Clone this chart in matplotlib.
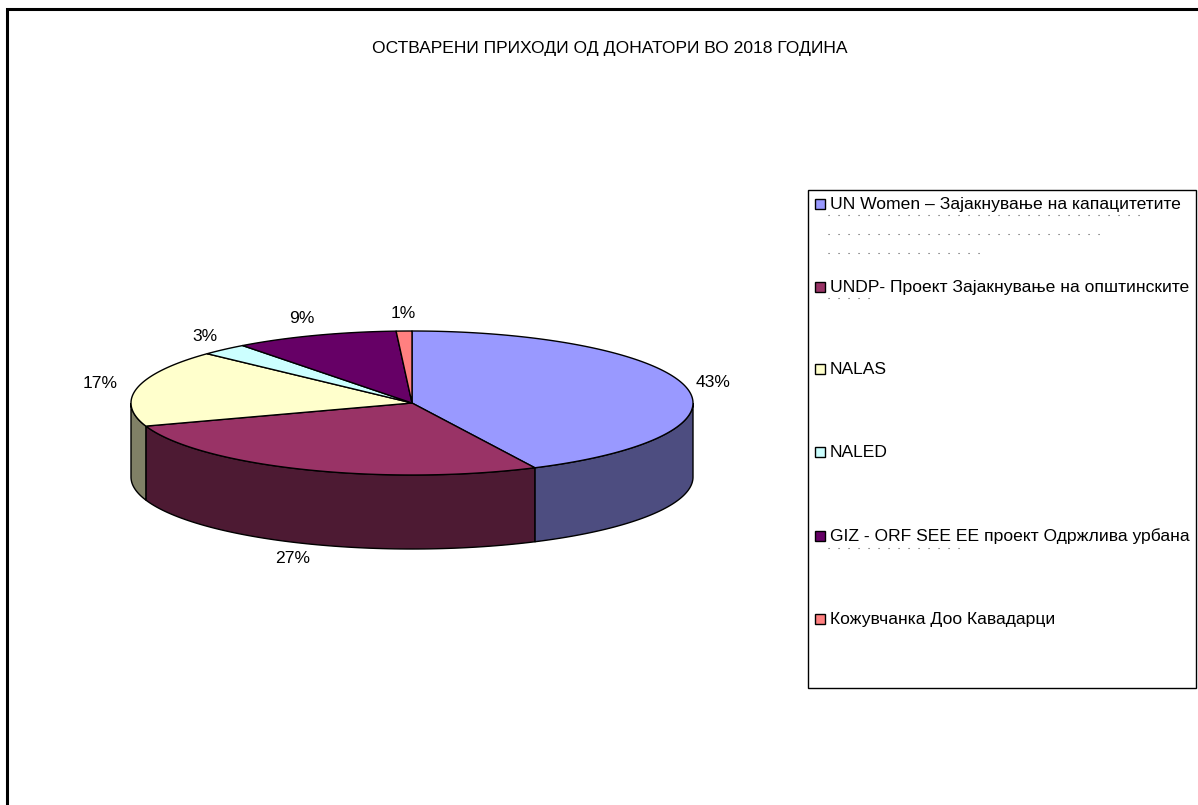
import numpy as np
import matplotlib.pyplot as plt
from matplotlib.patches import Polygon, Rectangle

plt.rcParams['font.family'] = ['Liberation Sans', 'DejaVu Sans']

title = "ОСТВАРЕНИ ПРИХОДИ ОД ДОНАТОРИ ВО 2018 ГОДИНА"
donors = ["UN Women – Зајакнување на капацитетите",
          "UNDP- Проект Зајакнување на општинските",
          "NALAS",
          "NALED",
          "GIZ - ORF SEE EE проект Одржлива урбана",
          "Кожувчанка Доо Кавадарци"]
shares = [42.8, 27.0, 17.2, 2.7, 9.4, 0.9]
labels = ["43%", "27%", "17%", "3%", "9%", "1%"]
top_colors = ["#9999FF", "#993366", "#FFFFCC", "#CCFFFF", "#660066", "#FF8080"]

# pie geometry in pixels
cx, cy = 412, 403
rx, ry = 281, 72
depth = 74
fs = 12.6

W, H = 1198, 805
fig = plt.figure(figsize=(W / 100, H / 100), dpi=100)
ax = fig.add_axes([0, 0, 1, 1])
ax.set_xlim(0, W)
ax.set_ylim(H, 0)
ax.axis('off')

# outer frame (only left and top visible)
ax.plot([7, 7, W], [H, 9, 9], color='black', lw=2.2, solid_joinstyle='miter')

ax.text(610, 48, title, ha='center', va='center', fontsize=fs)


def darker(c, f=0.5):
    c = c.lstrip('#')
    r, g, b = [int(c[i:i + 2], 16) for i in (0, 2, 4)]
    return (r * f / 255, g * f / 255, b * f / 255)


fr = np.array(shares) / sum(shares)
cum = np.concatenate([[0], np.cumsum(fr)])
starts = np.pi / 2 - 2 * np.pi * cum[:-1]
ends = np.pi / 2 - 2 * np.pi * cum[1:]

# side walls (front half only: angles between -pi and 0)
for a0, a1, col in zip(starts, ends, top_colors):
    lo, hi = min(a0, a1), max(a0, a1)
    for shift in (0, -2 * np.pi, 2 * np.pi):
        s0, s1 = max(lo + shift, -np.pi), min(hi + shift, 0)
        if s1 <= s0:
            continue
        t = np.linspace(s0, s1, 80)
        xs = cx + rx * np.cos(t)
        ys = cy - ry * np.sin(t)
        poly = np.column_stack([np.concatenate([xs, xs[::-1]]),
                                np.concatenate([ys, ys[::-1] + depth])])
        ax.add_patch(Polygon(poly, closed=True, fc=darker(col), ec='black', lw=1))

# top faces
for a0, a1, col in zip(starts, ends, top_colors):
    t = np.linspace(a0, a1, 150)
    xs = cx + rx * np.cos(t)
    ys = cy - ry * np.sin(t)
    poly = np.column_stack([np.concatenate([[cx], xs]), np.concatenate([[cy], ys])])
    ax.add_patch(Polygon(poly, closed=True, fc=col, ec='black', lw=1, joinstyle='round'))

# percentage labels
nudge = {2: (-10, 0), 4: (-4, 0)}
for i, (a0, a1, lab) in enumerate(zip(starts, ends, labels)):
    m = (a0 + a1) / 2
    lx = cx + rx * 1.1 * np.cos(m)
    ly = cy - ry * 1.25 * np.sin(m)
    if np.sin(m) < 0:
        ly += depth - 2
    dx, dy = nudge.get(i, (0, 0))
    ax.text(lx + dx, ly + dy, lab, ha='center', va='center', fontsize=fs)

# legend
ax.add_patch(Rectangle((808, 190), 388, 498, fc='white', ec='black', lw=1))
leg_y = [204, 287, 369, 452, 536, 619]
for y, name, col in zip(leg_y, donors, top_colors):
    ax.add_patch(Rectangle((815, y - 5), 10, 10, fc=col, ec='black', lw=1))
    ax.text(830, y, name, ha='left', va='center', fontsize=fs)

# clipped continuation lines shown as dots
dot_rows = [(215, 1141), (234, 1105), (253, 980), (298, 878), (548, 962)]
for y, x1 in dot_rows:
    ax.plot([828, x1], [y, y], color='#555555', lw=0.8, linestyle=(0, (1, 8)))

fig.savefig('out.png', dpi=100)
